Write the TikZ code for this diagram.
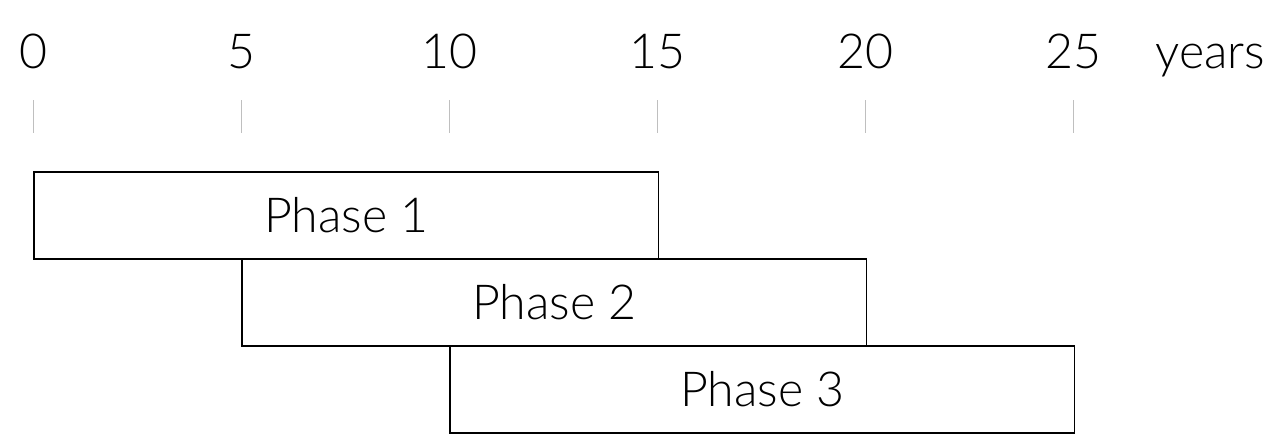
\documentclass[tikz,border=0pt]{standalone}
\usepackage{fontspec}
\setmainfont{Lato}[UprightFont={* Light}]
\usepackage{tikz}

\tikzset{
  phasebox/.style={draw, line width=1.1pt, anchor=north west,
    minimum width=15cm, minimum height=2.091cm, inner sep=0pt,
    font=\fontsize{33}{40}\selectfont},
  yearlabel/.style={anchor=base, inner sep=0pt, font=\fontsize{33}{40}\selectfont},
  tickline/.style={draw=black!25, line width=0.7pt}
}

\begin{document}
\begin{tikzpicture}
  \useasboundingbox (-0.805,0) rectangle (30.036,10.505);

  % time scale
  \foreach \yr in {0,5,...,25} {
    \node[yearlabel] (lbl\yr) at (\yr,8.87) {\yr};
    \draw[tickline] (\yr,8.101) -- (\yr,7.308);
  }
  \node[yearlabel, anchor=base west] (unit) at (26.96,8.87) {years};

  % phases
  \node[phasebox] (phaseA) at (0,6.394) {Phase 1};
  \node[phasebox] (phaseB) at (5,4.303) {Phase 2};
  \node[phasebox] (phaseC) at (10,2.212) {Phase 3};
\end{tikzpicture}
\end{document}
